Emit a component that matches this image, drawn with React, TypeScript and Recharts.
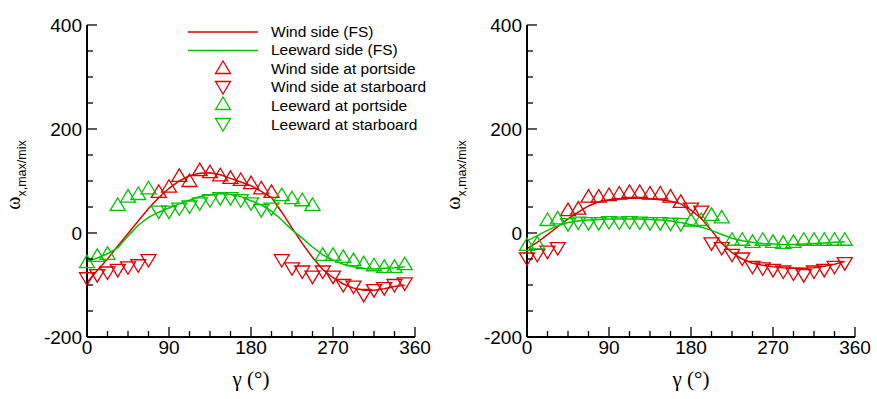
import React from "react";
import { ComposedChart, Line, Scatter, XAxis, YAxis, Label } from "recharts";

// flow angle, deg
const gamma = [
  0, 11.25, 22.5, 33.75, 45, 56.25, 67.5, 78.75, 90, 101.25, 112.5, 123.75, 135, 146.25, 157.5, 168.75,
  180, 191.25, 202.5, 213.75, 225, 236.25, 247.5, 258.75, 270, 281.25, 292.5, 303.75, 315, 326.25, 337.5, 348.75,
];
const xTicks = [0, 22.5, 45, 67.5, 90, 112.5, 135, 157.5, 180, 202.5, 225, 247.5, 270, 292.5, 315, 337.5, 360];
const yTicks = [-200, -150, -100, -50, 0, 50, 100, 150, 200, 250, 300, 350, 400];

const _ = null;

// left panel
const windFsL = [
  -95, -72, -50, -25, -1, 23, 47, 68, 86, 100, 110, 115, 116, 112, 105, 98,
  91, 80, 68, 40, 10, -20, -47, -70, -86, -98, -106, -110, -110, -107, -103, -100,
];
const leeFsL = [
  -55, -48, -40, -28, -6, 15, 30, 40, 48, 56, 63, 70, 73, 76, 74, 70,
  62, 54, 42, 25, 6, -10, -27, -42, -52, -60, -65, -68, -69, -68, -67, -65,
];
const windPortL = [
  _, _, _, _, _, _, _, 79, 89, 110, 100, 121, 117, 111, 106, 102,
  96, 86, 79, _, _, _, _, _, _, _, _, _, _, _, _, _,
];
const windStarL = [
  -87, -81, -76, -71, -66, -62, -52, _, _, _, _, _, _, _, _, _,
  _, _, _, -52, -68, -74, -84, -74, -84, -100, -103, -119, -110, -106, -100, -97,
];
const leePortL = [
  -56, -44, -40, 54, 70, 75, 86, _, _, _, _, _, _, _, _, _,
  _, _, _, 73, 67, 63, 54, -42, -42, -46, -52, -58, -62, -65, -65, -60,
];
const leeStarL = [
  _, _, _, _, _, _, _, 41, 41, 47, 51, 57, 63, 67, 67, 63,
  57, 44, 47, _, _, _, _, _, _, _, _, _, _, _, _, _,
];

// right panel
const windFsR = [
  -30, -18, -3, 12, 27, 40, 52, 60, 64, 66, 67, 67, 66, 64, 61, 56,
  44, 28, 5, -20, -38, -50, -58, -62, -65, -67, -68, -68, -67, -64, -60, -55,
];
const leeFsR = [
  -15, -5, 5, 14, 20, 23, 25, 26, 27, 27, 27, 27, 26, 25, 23, 20,
  16, 11, 5, -3, -10, -15, -18, -20, -21, -22, -22, -21, -20, -19, -18, -17,
];
const windPortR = [
  _, _, _, _, 44, 47, 70, 70, 73, 76, 79, 79, 76, 76, 70, 60,
  _, _, _, _, _, _, _, _, _, _, _, _, _, _, _, _,
];
const windStarR = [
  -49, -42, -36, -29, _, _, _, _, _, _, _, _, _, _, _, _,
  47, 41, -20, -29, -42, -49, -65, -68, -71, -74, -78, -81, -74, -71, -65, -58,
];
const leePortR = [
  -23, -20, 25, 28, _, _, _, _, _, _, _, _, _, _, _, _,
  24, 25, 35, 30, -13, -13, -17, -13, -17, -19, -17, -13, -13, -13, -13, -13,
];
const leeStarR = [
  _, _, _, _, 17, 20, 19, 19, 21, 20, 21, 20, 19, 19, 18, 17,
  _, _, _, _, _, _, _, _, _, _, _, _, _, _, _, _,
];

const RED = "#e00000";
const GREEN = "#00c400";
const FONT = "'Liberation Sans', Arial, sans-serif";
const SERIF = "'Liberation Serif', 'DejaVu Serif', serif";

const toPoints = (vals: (number | null)[]) =>
  gamma.map((g, i) => ({ g, v: vals[i] })).filter((p) => p.v !== null);

const tri = (cx: number, cy: number, up: boolean, color: string) => {
  const pts = up
    ? `${cx},${cy - 7} ${cx - 7.5},${cy + 5.5} ${cx + 7.5},${cy + 5.5}`
    : `${cx - 7.5},${cy - 5.5} ${cx + 7.5},${cy - 5.5} ${cx},${cy + 7}`;
  return <polygon points={pts} fill="none" stroke={color} strokeWidth={1.3} />;
};

const marker = (up: boolean, color: string) => (p: any) => tri(p.cx, p.cy, up, color);

const XTick = (props: any) => {
  const { x, y, payload } = props;
  const major = payload.value % 90 === 0;
  return (
    <g>
      <line x1={x} x2={x} y1={y} y2={y - (major ? 10 : 6)} stroke="#000" strokeWidth={1.3} />
      {major && (
        <text x={x} y={y + 17} textAnchor="middle" fontSize={19} fontFamily={FONT} fill="#000">
          {payload.value}
        </text>
      )}
    </g>
  );
};

const YTick = (props: any) => {
  const { x, y, payload } = props;
  const major = payload.value % 200 === 0;
  return (
    <g>
      <line x1={x} x2={x + (major ? 10 : 6)} y1={y} y2={y} stroke="#000" strokeWidth={1.3} />
      {major && (
        <text x={x - 5} y={y + 7} textAnchor="end" fontSize={19} fontFamily={FONT} fill="#000">
          {payload.value}
        </text>
      )}
    </g>
  );
};

function Panel(props: {
  windFs: number[];
  leeFs: number[];
  windPort: (number | null)[];
  windStar: (number | null)[];
  leePort: (number | null)[];
  leeStar: (number | null)[];
  width: number;
  right: number;
}) {
  return (
    <ComposedChart width={props.width} height={399} margin={{ top: 25, right: props.right, bottom: 0, left: 0 }}>
      <XAxis
        dataKey="g"
        type="number"
        domain={[0, 360]}
        ticks={xTicks}
        interval={0}
        tickSize={0}
        tickMargin={0}
        tickLine={false}
        tick={(p: any) => <XTick {...p} />}
        axisLine={{ stroke: "#000", strokeWidth: 2 }}
        height={62}
      >
        <Label
          content={() => (
            <text x={251} y={386} textAnchor="middle" fontSize={21} fontFamily={SERIF} fill="#000">
              γ (°)
            </text>
          )}
        />
      </XAxis>
      <YAxis
        type="number"
        domain={[-200, 400]}
        ticks={yTicks}
        interval={0}
        tickSize={0}
        tickMargin={0}
        tickLine={false}
        tick={(p: any) => <YTick {...p} />}
        axisLine={{ stroke: "#000", strokeWidth: 2 }}
        width={87}
      >
        <Label
          content={() => (
            <text transform="translate(20,175) rotate(-90)" textAnchor="middle" fill="#000">
              <tspan fontFamily={SERIF} fontSize={20}>ω</tspan>
              <tspan fontFamily={FONT} fontSize={12.5} dy={6}>x,max/mix</tspan>
            </text>
          )}
        />
      </YAxis>
      <Line data={toPoints(props.windFs)} dataKey="v" stroke={RED} strokeWidth={1.5} dot={false} isAnimationActive={false} />
      <Line data={toPoints(props.leeFs)} dataKey="v" stroke={GREEN} strokeWidth={1.5} dot={false} isAnimationActive={false} />
      <Scatter data={toPoints(props.windPort)} dataKey="v" shape={marker(true, RED)} isAnimationActive={false} />
      <Scatter data={toPoints(props.windStar)} dataKey="v" shape={marker(false, RED)} isAnimationActive={false} />
      <Scatter data={toPoints(props.leePort)} dataKey="v" shape={marker(true, GREEN)} isAnimationActive={false} />
      <Scatter data={toPoints(props.leeStar)} dataKey="v" shape={marker(false, GREEN)} isAnimationActive={false} />
    </ComposedChart>
  );
}

const legendRows = [
  "Wind side (FS)",
  "Leeward side (FS)",
  "Wind side at portside",
  "Wind side at starboard",
  "Leeward at portside",
  "Leeward at starboard",
];

function LegendBox() {
  const base = [36.7, 55, 74, 91.7, 110.7, 130];
  return (
    <svg width={260} height={140} style={{ position: "absolute", left: 180, top: 0 }}>
      <line x1={8} x2={78} y1={32} y2={32} stroke={RED} strokeWidth={1.6} />
      <line x1={8} x2={78} y1={50.5} y2={50.5} stroke={GREEN} strokeWidth={1.6} />
      {tri(43, 68, true, RED)}
      {tri(43, 87, false, RED)}
      {tri(43, 104, true, GREEN)}
      {tri(43, 124, false, GREEN)}
      {legendRows.map((t, i) => (
        <text key={t} x={91} y={base[i]} fontSize={15.5} fontFamily={FONT} fill="#000">
          {t}
        </text>
      ))}
    </svg>
  );
}

export default function App() {
  return (
    <div style={{ position: "absolute", left: 0, top: 0, width: 877, height: 399, background: "#fff", overflow: "hidden" }}>
      <div style={{ position: "absolute", left: 0, top: 0 }}>
        <Panel windFs={windFsL} leeFs={leeFsL} windPort={windPortL} windStar={windStarL} leePort={leePortL} leeStar={leeStarL} width={440} right={25} />
      </div>
      <div style={{ position: "absolute", left: 440, top: 0 }}>
        <Panel windFs={windFsR} leeFs={leeFsR} windPort={windPortR} windStar={windStarR} leePort={leePortR} leeStar={leeStarR} width={437} right={22} />
      </div>
      <LegendBox />
    </div>
  );
}
